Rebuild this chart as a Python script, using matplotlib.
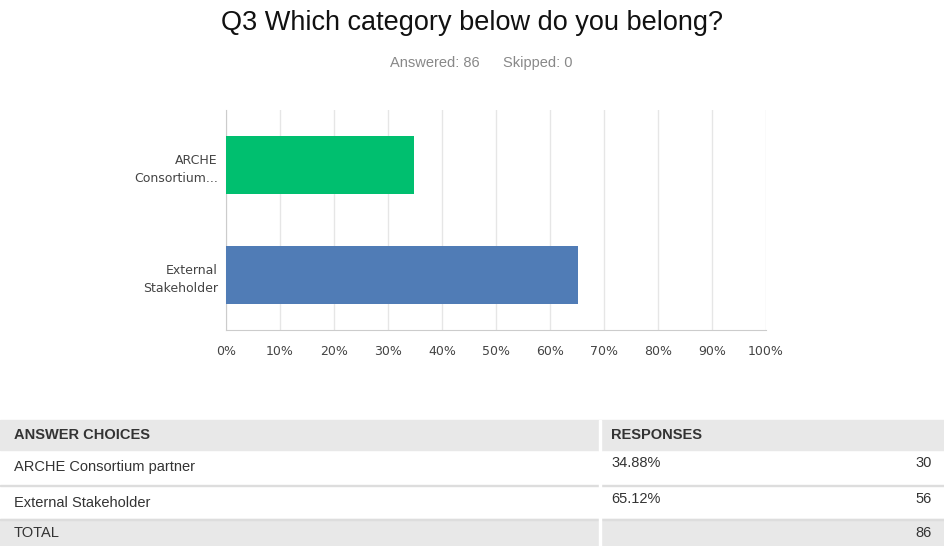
import matplotlib.pyplot as plt
from matplotlib.patches import Rectangle
from matplotlib.ticker import PercentFormatter

categories = ['ARCHE\nConsortium...', 'External\nStakeholder']
choices = ['ARCHE Consortium partner', 'External Stakeholder']
percents = [34.88, 65.12]
counts = [30, 56]
bar_colors = ['#00bf6f', '#507cb6']
answered = 86
skipped = 0

W, H = 944, 546
fig = plt.figure(figsize=(W / 100, H / 100), dpi=100)
plt.rcParams['font.family'] = ['Liberation Sans', 'DejaVu Sans']


def fx(px):
    return px / W


def fy(py):
    return 1 - py / H


# bar chart
ax = fig.add_axes([fx(226), fy(330), fx(766) - fx(226), fy(110) - fy(330)])
ypos = list(range(len(categories)))
ax.barh(ypos, percents, height=0.53, color=bar_colors, zorder=3)
ax.set_ylim(len(categories) - 0.5, -0.5)
ax.set_xlim(0, 100)
ax.set_xticks(range(0, 101, 10))
ax.xaxis.set_major_formatter(PercentFormatter(decimals=0))
ax.set_yticks(ypos)
ax.set_yticklabels(categories, fontsize=9, color='#444444', family='DejaVu Sans', linespacing=1.5)
ax.tick_params(axis='x', labelsize=9, labelcolor='#444444', length=0, pad=11)
ax.tick_params(axis='y', length=0, pad=6)
for lab in ax.get_xticklabels():
    lab.set_family('DejaVu Sans')
ax.grid(axis='x', color='#e6e6e6', linewidth=1, zorder=0)
for s in ['top', 'right']:
    ax.spines[s].set_visible(False)
for s in ['left', 'bottom']:
    ax.spines[s].set_color('#cccccc')

# titles
fig.text(0.5, fy(23), 'Q3 Which category below do you belong?', ha='center', va='center',
         fontsize=19.5, color='#111111')
fig.text(fx(435), fy(63), f'Answered: {answered}', ha='center', va='center', fontsize=10.5, color='#888888')
fig.text(fx(538), fy(63), f'Skipped: {skipped}', ha='center', va='center', fontsize=10.5, color='#888888')

# table
gray = '#e8e8e8'
fig.patches.append(Rectangle((0, fy(450)), 1, fy(420) - fy(450), transform=fig.transFigure,
                             color=gray, zorder=0))
fig.patches.append(Rectangle((0, 0), 1, fy(519), transform=fig.transFigure, color=gray, zorder=0))
for py in [484.5, 518.5]:
    fig.patches.append(Rectangle((0, fy(py + 1)), 1, fy(py) - fy(py + 1), transform=fig.transFigure,
                                 color='#dddddd', zorder=0))
fig.patches.append(Rectangle((fx(599), 0), fx(2), fy(420), transform=fig.transFigure,
                             color='white', zorder=1))

fig.text(fx(14), fy(435), 'ANSWER CHOICES', ha='left', va='center', fontsize=10.5, weight='bold', color='#333333')
fig.text(fx(611), fy(435), 'RESPONSES', ha='left', va='center', fontsize=10.5, weight='bold', color='#333333')
row_y = [467, 503]
for i in range(len(choices)):
    fig.text(fx(14), fy(row_y[i]), choices[i], ha='left', va='center', fontsize=10.5, color='#333333')
    fig.text(fx(611), fy(row_y[i] - 4), f'{percents[i]:.2f}%', ha='left', va='center', fontsize=10.5, color='#333333')
    fig.text(fx(932), fy(row_y[i] - 4), str(counts[i]), ha='right', va='center', fontsize=10.5, color='#333333')
fig.text(fx(14), fy(533), 'TOTAL', ha='left', va='center', fontsize=10.5, color='#333333')
fig.text(fx(932), fy(533), str(sum(counts)), ha='right', va='center', fontsize=10.5, color='#333333')

fig.savefig('out.png', dpi=100)
